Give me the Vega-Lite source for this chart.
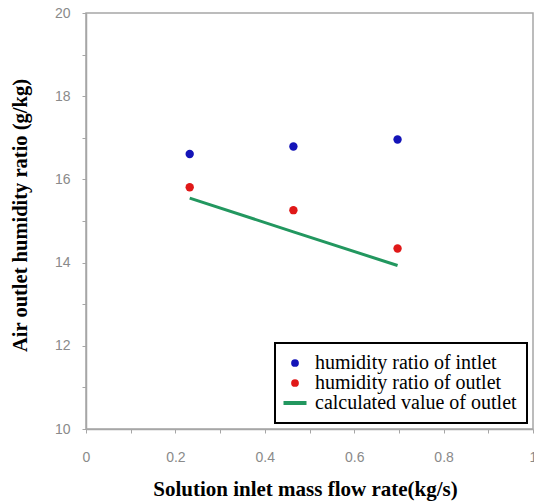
{
  "$schema": "https://vega.github.io/schema/vega-lite/v6.json",
  "width": 447,
  "height": 416,
  "autosize": {"type": "none"},
  "padding": {"left": 86, "top": 13, "right": 1, "bottom": 75},
  "background": "white",
  "config": {
    "view": {"stroke": "#a6a6a6", "strokeWidth": 1.5},
    "font": "Liberation Sans"
  },
  "datasets": {
    "measured": [
      {"flow": 0.232, "humidity": 16.61, "series": "humidity ratio of intlet"},
      {"flow": 0.464, "humidity": 16.79, "series": "humidity ratio of intlet"},
      {"flow": 0.697, "humidity": 16.96, "series": "humidity ratio of intlet"},
      {"flow": 0.232, "humidity": 15.81, "series": "humidity ratio of outlet"},
      {"flow": 0.464, "humidity": 15.26, "series": "humidity ratio of outlet"},
      {"flow": 0.697, "humidity": 14.34, "series": "humidity ratio of outlet"}
    ],
    "calc": [
      {"flow": 0.232, "humidity": 15.55, "series": "calculated value of outlet"},
      {"flow": 0.464, "humidity": 14.74, "series": "calculated value of outlet"},
      {"flow": 0.697, "humidity": 13.93, "series": "calculated value of outlet"}
    ]
  },
  "encoding": {
    "x": {
      "field": "flow", "type": "quantitative",
      "scale": {"domain": [0, 1], "nice": false, "zero": false},
      "axis": {
        "values": [0, 0.1, 0.2, 0.3, 0.4, 0.5, 0.6, 0.7, 0.8, 0.9, 1],
        "format": "~g",
        "labelExpr": "round(datum.value * 10) % 2 ? '' : datum.label",
        "grid": false,
        "domainColor": "#a6a6a6", "domainWidth": 1.5,
        "tickColor": "#a6a6a6", "tickSize": 4,
        "labelColor": "#8a8a8a", "labelFontSize": 14, "labelPadding": 17,
        "labelFlush": false, "labelOverlap": false,
        "title": "Solution inlet mass flow rate(kg/s)",
        "titleFont": "Liberation Serif", "titleFontWeight": "bold", "titleFontSize": 21,
        "titleColor": "black", "titleX": 219, "titleY": 49, "titleBaseline": "top", "titleAnchor": "middle", "titleAlign": "center"
      }
    },
    "y": {
      "field": "humidity", "type": "quantitative",
      "scale": {"domain": [10, 20], "nice": false, "zero": false},
      "axis": {
        "values": [10, 11, 12, 13, 14, 15, 16, 17, 18, 19, 20],
        "labelExpr": "datum.value % 2 ? '' : datum.label",
        "grid": false,
        "domainColor": "#a6a6a6", "domainWidth": 1.5,
        "tickColor": "#a6a6a6", "tickSize": 4,
        "labelColor": "#8a8a8a", "labelFontSize": 14, "labelPadding": 12,
        "labelFlush": false, "labelOverlap": false,
        "title": "Air outlet humidity ratio (g/kg)",
        "titleFont": "Liberation Serif", "titleFontWeight": "bold", "titleFontSize": 20.5,
        "titleColor": "black", "titleX": -66, "titleY": 202, "titleAngle": 270, "titleBaseline": "middle", "titleAlign": "center", "titleAnchor": "middle"
      }
    },
    "color": {
      "field": "series", "type": "nominal",
      "scale": {
        "domain": ["humidity ratio of intlet", "humidity ratio of outlet", "calculated value of outlet"],
        "range": ["#1414b8", "#e01818", "#22975f"]
      },
      "legend": {
        "orient": "none", "legendX": 189, "legendY": 330,
        "title": null,
        "strokeColor": "black", "fillColor": "white",
        "padding": 10, "rowPadding": -4,
        "labelFont": "Liberation Serif", "labelFontSize": 20, "labelColor": "black",
        "labelOffset": 10, "labelLimit": 400,
        "symbolSize": 529, "symbolType": "circle",
        "encode": {
          "legend": {"update": {"strokeWidth": {"value": 2}}},
          "symbols": {
            "update": {
              "shape": {"signal": "datum.label === 'calculated value of outlet' ? 'stroke' : 'circle'"},
              "size": {"signal": "datum.label === 'calculated value of outlet' ? 529 : 60"},
              "strokeWidth": {"signal": "datum.label === 'calculated value of outlet' ? 4 : 0"},
              "opacity": {"value": 1}
            }
          }
        }
      }
    }
  },
  "layer": [
    {
      "data": {"name": "calc"},
      "mark": {"type": "line", "strokeWidth": 3}
    },
    {
      "data": {"name": "measured"},
      "mark": {"type": "point", "filled": true, "size": 70, "opacity": 1}
    }
  ]
}
